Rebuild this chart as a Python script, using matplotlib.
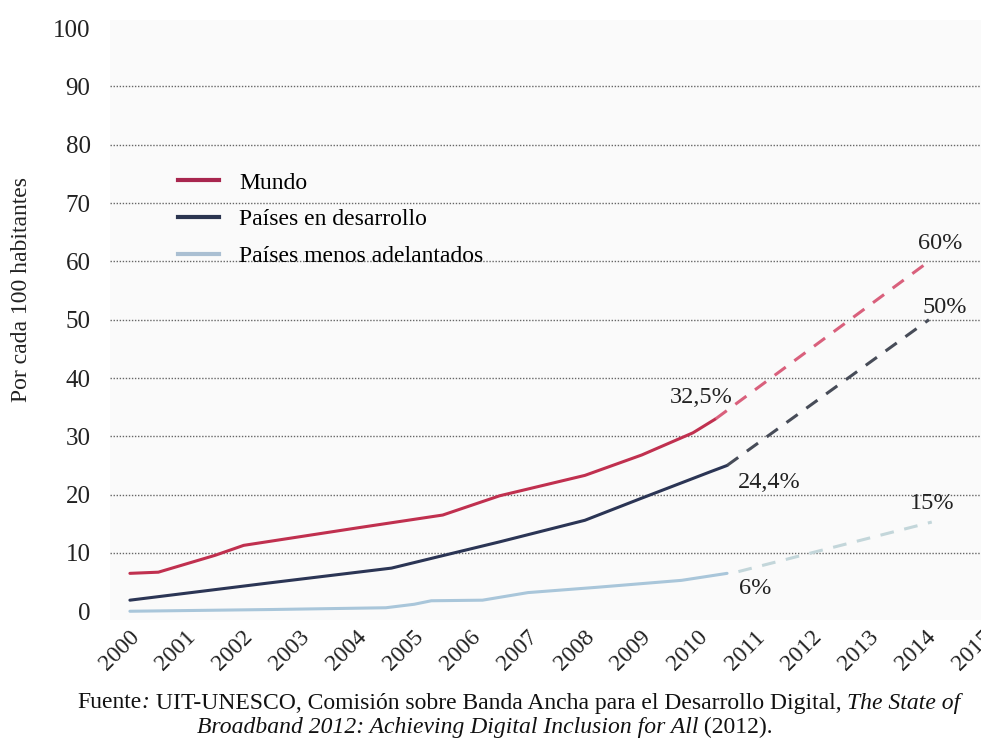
import matplotlib
matplotlib.use("Agg")
import matplotlib.pyplot as plt
from matplotlib.transforms import ScaledTranslation
from matplotlib.lines import Line2D

plt.rcParams['font.family'] = ['Liberation Serif', 'DejaVu Serif']

# ---------------- data ----------------
years = list(range(2000, 2016))
year_labels = [str(y) for y in years]
y_ticks = [0, 10, 20, 30, 40, 50, 60, 70, 80, 90, 100]

series_names = ["Mundo", "Países en desarrollo", "Países menos adelantados"]

mundo_x = [2000, 2000.5, 2001.5, 2002, 2003, 2004, 2005.5, 2006.5, 2008, 2009, 2009.9, 2010.3]
mundo_y = [6.5, 6.7, 9.6, 11.3, 12.8, 14.3, 16.5, 19.8, 23.3, 26.8, 30.6, 33.0]
mundo_proj_x = [2010.3, 2014.05]
mundo_proj_y = [33.0, 60]

desarrollo_x = [2000, 2002.4, 2004.6, 2005.4, 2006.5, 2008, 2009, 2010.2, 2010.5]
desarrollo_y = [1.9, 4.8, 7.4, 9.3, 11.9, 15.6, 19.4, 23.9, 25.0]
desarrollo_proj_x = [2010.5, 2014.05]
desarrollo_proj_y = [25.0, 50]

pma_x = [2000, 2002.5, 2004.5, 2005.0, 2005.3, 2006.2, 2007.0, 2008.2, 2009.7, 2010.5]
pma_y = [0.0, 0.3, 0.6, 1.2, 1.8, 1.9, 3.2, 4.1, 5.3, 6.5]
pma_proj_x = [2010.7, 2014.1]
pma_proj_y = [6.8, 15.3]

annotations = [("32,5%", 2010.05, 36.7), ("24,4%", 2011.25, 22.1), ("60%", 2014.25, 63.0),
               ("50%", 2014.32, 52.1), ("15%", 2014.1, 18.5), ("6%", 2011.0, 3.9)]

# ---------------- figure ----------------
W, H = 981, 740
fig = plt.figure(figsize=(W / 100, H / 100), dpi=100)
fig.patch.set_facecolor('white')
ax = fig.add_axes([110 / W, 1 - 620 / H, 1 - 110 / W + 0.002, 600 / H])
ax.set_facecolor('#fafafa')
ax.set_xlim(1999.65, 2015.0)
ax.set_ylim(-1.5, 101.4)
for s in ax.spines.values():
    s.set_visible(False)

c_mundo = '#c0304f'
c_des = '#2b3555'
c_pma = '#a9c6da'

ax.plot(mundo_x, mundo_y, color=c_mundo, lw=2.2, solid_capstyle='round')
ax.plot(mundo_proj_x, mundo_proj_y, color='#d9607c', lw=2.2, dashes=(4.5, 3.5))
ax.plot(desarrollo_x, desarrollo_y, color=c_des, lw=2.2, solid_capstyle='round')
ax.plot(desarrollo_proj_x, desarrollo_proj_y, color='#474c58', lw=2.2, dashes=(4.5, 3.5))
ax.plot(pma_x, pma_y, color=c_pma, lw=2.2, solid_capstyle='round')
ax.plot(pma_proj_x, pma_proj_y, color='#c3d6da', lw=2.2, dashes=(4.5, 3.5))

for txt, x, y in annotations:
    ax.text(x, y, txt, ha='center', va='center', fontsize=17.5, color='#222222')

# grid
ax.set_yticks(y_ticks)
ax.set_yticklabels([str(v) for v in y_ticks])
ax.yaxis.grid(True, color='#666666', linestyle=(0, (1, 1.2)), linewidth=1.0)
gl = ax.get_ygridlines()
gl[0].set_visible(False)
gl[-1].set_visible(False)
ax.set_axisbelow(True)
ax.tick_params(axis='y', length=0, pad=14, labelsize=18, labelcolor='#222222')

ax.set_xticks(years)
ax.set_xticklabels(year_labels, rotation=45, ha='right', va='center',
                   rotation_mode='anchor', fontsize=17, color='#222222')
ax.tick_params(axis='x', length=0, pad=10)
offset = ScaledTranslation(6 / 100, 0, fig.dpi_scale_trans)
for lab in ax.get_xticklabels():
    lab.set_transform(lab.get_transform() + offset)

fig.text(22 / W, 1 - 290 / H, "Por cada 100 habitantes", rotation=90,
         ha='center', va='center', fontsize=17, color='#222222')

# legend
handles = [Line2D([], [], color='#a8264e', lw=3),
           Line2D([], [], color='#2b3550', lw=3),
           Line2D([], [], color='#aabfd2', lw=3)]
ax.legend(handles, series_names, loc='upper left',
          bbox_to_anchor=(178 / W, 1 - 172 / H), bbox_transform=fig.transFigure,
          frameon=False, fontsize=17, handlelength=1.75, handletextpad=0.85,
          labelspacing=0.65, borderpad=0, borderaxespad=0)

# caption with mixed italic segments
def draw_segments(segments, cx, cy, size=15):
    renderer = fig.canvas.get_renderer()
    texts = []
    for s, style in segments:
        t = fig.text(0, cy, s, fontsize=size, style=style, ha='left', va='center',
                     transform=None, color='#111111')
        texts.append(t)
    widths = [t.get_window_extent(renderer).width for t in texts]
    total = sum(widths)
    x = cx - total / 2
    for t, w in zip(texts, widths):
        t.set_position((x, cy))
        x += w

draw_segments([("Fuente", 'normal'), (":", 'italic'),
               (" UIT-UNESCO, Comisión sobre Banda Ancha para el Desarrollo Digital, ", 'normal'),
               ("The State of", 'italic')], 519, H - 703, size=17)
draw_segments([("Broadband 2012: Achieving Digital Inclusion for All", 'italic'),
               (" (2012).", 'normal')], 485, H - 727, size=17)

fig.savefig("out.png", dpi=100)
